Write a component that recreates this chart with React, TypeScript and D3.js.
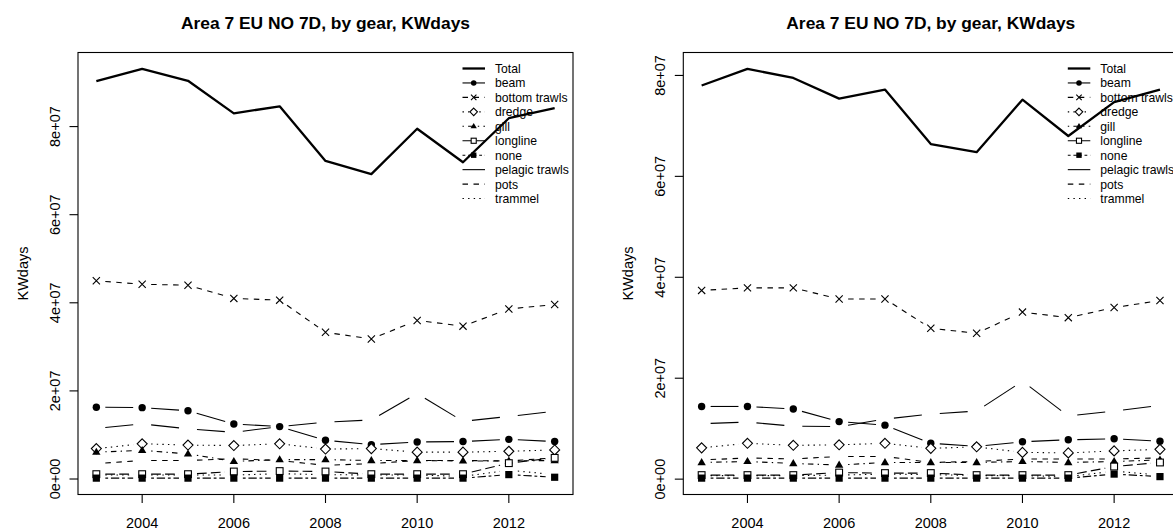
import React from 'react';
import * as d3 from 'd3';

// years on the x axis
const years = [2003, 2004, 2005, 2006, 2007, 2008, 2009, 2010, 2011, 2012, 2013];
const gears = ['Total', 'beam', 'bottom trawls', 'dredge', 'gill', 'longline', 'none', 'pelagic trawls', 'pots', 'trammel'];
const xTicks = [2004, 2006, 2008, 2010, 2012];
const yTicks = [0, 2e7, 4e7, 6e7, 8e7];
const yTickLabels = ['0e+00', '2e+07', '4e+07', '6e+07', '8e+07'];
const chartTitle = 'Area 7 EU NO 7D, by gear, KWdays';
const yLabel = 'KWdays';

// left panel, KWdays in units of 1e7
const leftTotal = [9.03, 9.31, 9.04, 8.30, 8.46, 7.22, 6.92, 7.95, 7.19, 8.19, 8.42];
const leftBeam = [1.63, 1.62, 1.55, 1.25, 1.19, 0.88, 0.78, 0.84, 0.85, 0.90, 0.85];
const leftBottom = [4.50, 4.42, 4.40, 4.10, 4.06, 3.33, 3.18, 3.60, 3.47, 3.86, 3.96];
const leftDredge = [0.69, 0.80, 0.77, 0.76, 0.80, 0.68, 0.69, 0.61, 0.61, 0.63, 0.66];
const leftGill = [0.61, 0.65, 0.57, 0.40, 0.44, 0.44, 0.42, 0.42, 0.41, 0.41, 0.42];
const leftLongline = [0.11, 0.11, 0.11, 0.17, 0.18, 0.17, 0.11, 0.11, 0.11, 0.36, 0.48];
const leftNone = [0.02, 0.02, 0.02, 0.02, 0.02, 0.02, 0.02, 0.02, 0.02, 0.10, 0.04];
const leftPelagic = [1.15, 1.25, 1.14, 1.06, 1.19, 1.29, 1.34, 1.94, 1.31, 1.42, 1.54];
const leftPots = [0.35, 0.42, 0.42, 0.46, 0.42, 0.31, 0.35, 0.42, 0.42, 0.41, 0.48];
const leftTrammel = [0.09, 0.09, 0.09, 0.09, 0.12, 0.10, 0.09, 0.09, 0.06, 0.20, 0.10];

// right panel
const rightTotal = [7.80, 8.13, 7.95, 7.54, 7.72, 6.64, 6.48, 7.52, 6.80, 7.47, 7.72];
const rightBeam = [1.44, 1.44, 1.39, 1.14, 1.07, 0.71, 0.65, 0.74, 0.78, 0.80, 0.75];
const rightBottom = [3.74, 3.79, 3.79, 3.57, 3.57, 2.99, 2.89, 3.31, 3.20, 3.40, 3.54];
const rightDredge = [0.62, 0.71, 0.67, 0.68, 0.71, 0.61, 0.64, 0.53, 0.52, 0.56, 0.59];
const rightGill = [0.33, 0.35, 0.31, 0.28, 0.33, 0.33, 0.33, 0.35, 0.33, 0.35, 0.38];
const rightLongline = [0.08, 0.08, 0.08, 0.13, 0.12, 0.12, 0.08, 0.08, 0.08, 0.25, 0.33];
const rightNone = [0.02, 0.02, 0.02, 0.02, 0.02, 0.02, 0.02, 0.02, 0.02, 0.10, 0.05];
const rightPelagic = [1.10, 1.13, 1.05, 1.04, 1.19, 1.29, 1.35, 1.94, 1.25, 1.35, 1.46];
const rightPots = [0.38, 0.42, 0.40, 0.45, 0.45, 0.33, 0.35, 0.40, 0.40, 0.40, 0.42];
const rightTrammel = [0.07, 0.07, 0.07, 0.08, 0.10, 0.09, 0.07, 0.07, 0.05, 0.16, 0.08];

const UNIT = 1e7;

// R-like line types and plotting symbols, one per gear
const dashes: Record<string, string> = {
  solid: '',
  dashed: '5.5 5.5',
  dotted: '1.4 4.2',
  dotdash: '1.4 4.2 5.5 4.2',
  longdash: '9.7 4.2',
  twodash: '2.8 2.8 8.3 2.8',
};
const gearLty = ['solid', 'solid', 'dashed', 'dotted', 'dotdash', 'longdash', 'twodash', 'solid', 'dashed', 'dotted'];
const gearPch = ['', 'circle', 'cross', 'diamond', 'triangle', 'square', 'fsquare', '', '', ''];

const W = 1173;
const H = 532;
const font = '"Liberation Sans", Arial, Helvetica, sans-serif';
const box = { left: 78, right: 573, top: 52.5, bottom: 494.5 };
const GAP = 9;

function Marker({ pch, x, y, s }: { pch: string; x: number; y: number; s: number }) {
  const sw = 1.1;
  if (pch === 'circle') return <circle cx={x} cy={y} r={3.7 * s} fill="#000" />;
  if (pch === 'cross') {
    const h = 3.6 * s;
    return <path d={`M${x - h},${y - h}L${x + h},${y + h}M${x - h},${y + h}L${x + h},${y - h}`} stroke="#000" strokeWidth={sw} />;
  }
  if (pch === 'diamond') {
    const h = 5 * s;
    return <path d={`M${x},${y - h}L${x + h},${y}L${x},${y + h}L${x - h},${y}Z`} fill="#fff" stroke="#000" strokeWidth={sw} />;
  }
  if (pch === 'triangle') {
    const h = 4.4 * s;
    return <path d={`M${x},${y - h}L${x + h * 0.95},${y + h * 0.6}L${x - h * 0.95},${y + h * 0.6}Z`} fill="#000" />;
  }
  if (pch === 'square') {
    const h = 3.4 * s;
    return <rect x={x - h} y={y - h} width={2 * h} height={2 * h} fill="#fff" stroke="#000" strokeWidth={sw} />;
  }
  if (pch === 'fsquare') {
    const h = 3.6 * s;
    return <rect x={x - h} y={y - h} width={2 * h} height={2 * h} fill="#000" />;
  }
  return null;
}

function Panel({ series, offset }: { series: number[][]; offset: number }) {
  const all = series.flat().map(v => v * UNIT);
  const [lo, hi] = d3.extent(all) as [number, number];
  const pad = (hi - lo) * 0.04;
  const x = d3.scaleLinear().domain([years[0] - 0.4, years[years.length - 1] + 0.4]).range([box.left, box.right]);
  const y = d3.scaleLinear().domain([lo - pad, hi + pad]).range([box.bottom, box.top]);
  const cx = (box.left + box.right) / 2;
  const cy = (box.top + box.bottom) / 2;

  const totalLine = d3.line<number>().x((_, i) => x(years[i])).y(v => y(v * UNIT));

  const gapped = (vals: number[]) => {
    const segs: string[] = [];
    for (let i = 0; i < vals.length - 1; i++) {
      const x0 = x(years[i]), y0 = y(vals[i] * UNIT);
      const x1 = x(years[i + 1]), y1 = y(vals[i + 1] * UNIT);
      const len = Math.hypot(x1 - x0, y1 - y0);
      if (len <= 2 * GAP) continue;
      const ux = (x1 - x0) / len, uy = (y1 - y0) / len;
      segs.push(`M${x0 + ux * GAP},${y0 + uy * GAP}L${x1 - ux * GAP},${y1 - uy * GAP}`);
    }
    return segs;
  };

  const legX = box.right - 78;
  const legY0 = 68.5;
  const legStep = 14.45;

  return (
    <g transform={`translate(${offset},0)`}>
      <text x={cx} y={29} textAnchor="middle" fontSize={17.4} fontWeight="bold" fontFamily={font}>{chartTitle}</text>
      <rect x={box.left} y={box.top} width={box.right - box.left} height={box.bottom - box.top} fill="none" stroke="#000" strokeWidth={1.1} />
      {xTicks.map(t => (
        <g key={t}>
          <line x1={x(t)} x2={x(t)} y1={box.bottom} y2={box.bottom + 8.5} stroke="#000" strokeWidth={1.1} />
          <text x={x(t)} y={528} textAnchor="middle" fontSize={14.5} fontFamily={font}>{t}</text>
        </g>
      ))}
      {yTicks.map((t, i) => (
        <g key={t}>
          <line x1={box.left - 8.5} x2={box.left} y1={y(t)} y2={y(t)} stroke="#000" strokeWidth={1.1} />
          <text transform={`translate(${box.left - 18},${y(t)}) rotate(-90)`} textAnchor="middle" fontSize={14.5} fontFamily={font}>{yTickLabels[i]}</text>
        </g>
      ))}
      <text transform={`translate(${box.left - 50},${cy}) rotate(-90)`} textAnchor="middle" fontSize={14.5} fontFamily={font}>{yLabel}</text>

      {/* legend, no box */}
      {gears.map((g, i) => {
        const ly = legY0 + i * legStep;
        return (
          <g key={g}>
            <line x1={legX - 32.5} x2={legX - 10} y1={ly} y2={ly} stroke="#000" strokeWidth={i === 0 ? 2.3 : 1.1} strokeDasharray={dashes[gearLty[i]]} />
            <Marker pch={gearPch[i]} x={legX - 21.3} y={ly} s={0.75} />
            <text x={legX} y={ly + 4.4} fontSize={12.2} fontFamily={font}>{g}</text>
          </g>
        );
      })}

      <path d={totalLine(series[0]) || ''} fill="none" stroke="#000" strokeWidth={2.3} strokeLinejoin="round" />
      {series.slice(1).map((vals, k) => {
        const i = k + 1;
        return (
          <g key={gears[i]}>
            {gapped(vals).map((d, j) => (
              <path key={j} d={d} fill="none" stroke="#000" strokeWidth={1.1} strokeDasharray={dashes[gearLty[i]]} />
            ))}
            {vals.map((v, j) => (
              <Marker key={j} pch={gearPch[i]} x={x(years[j])} y={y(v * UNIT)} s={1} />
            ))}
          </g>
        );
      })}
    </g>
  );
}

export default function App() {
  const left = [leftTotal, leftBeam, leftBottom, leftDredge, leftGill, leftLongline, leftNone, leftPelagic, leftPots, leftTrammel];
  const right = [rightTotal, rightBeam, rightBottom, rightDredge, rightGill, rightLongline, rightNone, rightPelagic, rightPots, rightTrammel];
  return (
    <div style={{ position: 'fixed', left: 0, top: 0 }}>
      <svg width={W} height={H} style={{ display: 'block', background: '#fff' }}>
        <Panel series={left} offset={0} />
        <Panel series={right} offset={605.3} />
      </svg>
    </div>
  );
}
